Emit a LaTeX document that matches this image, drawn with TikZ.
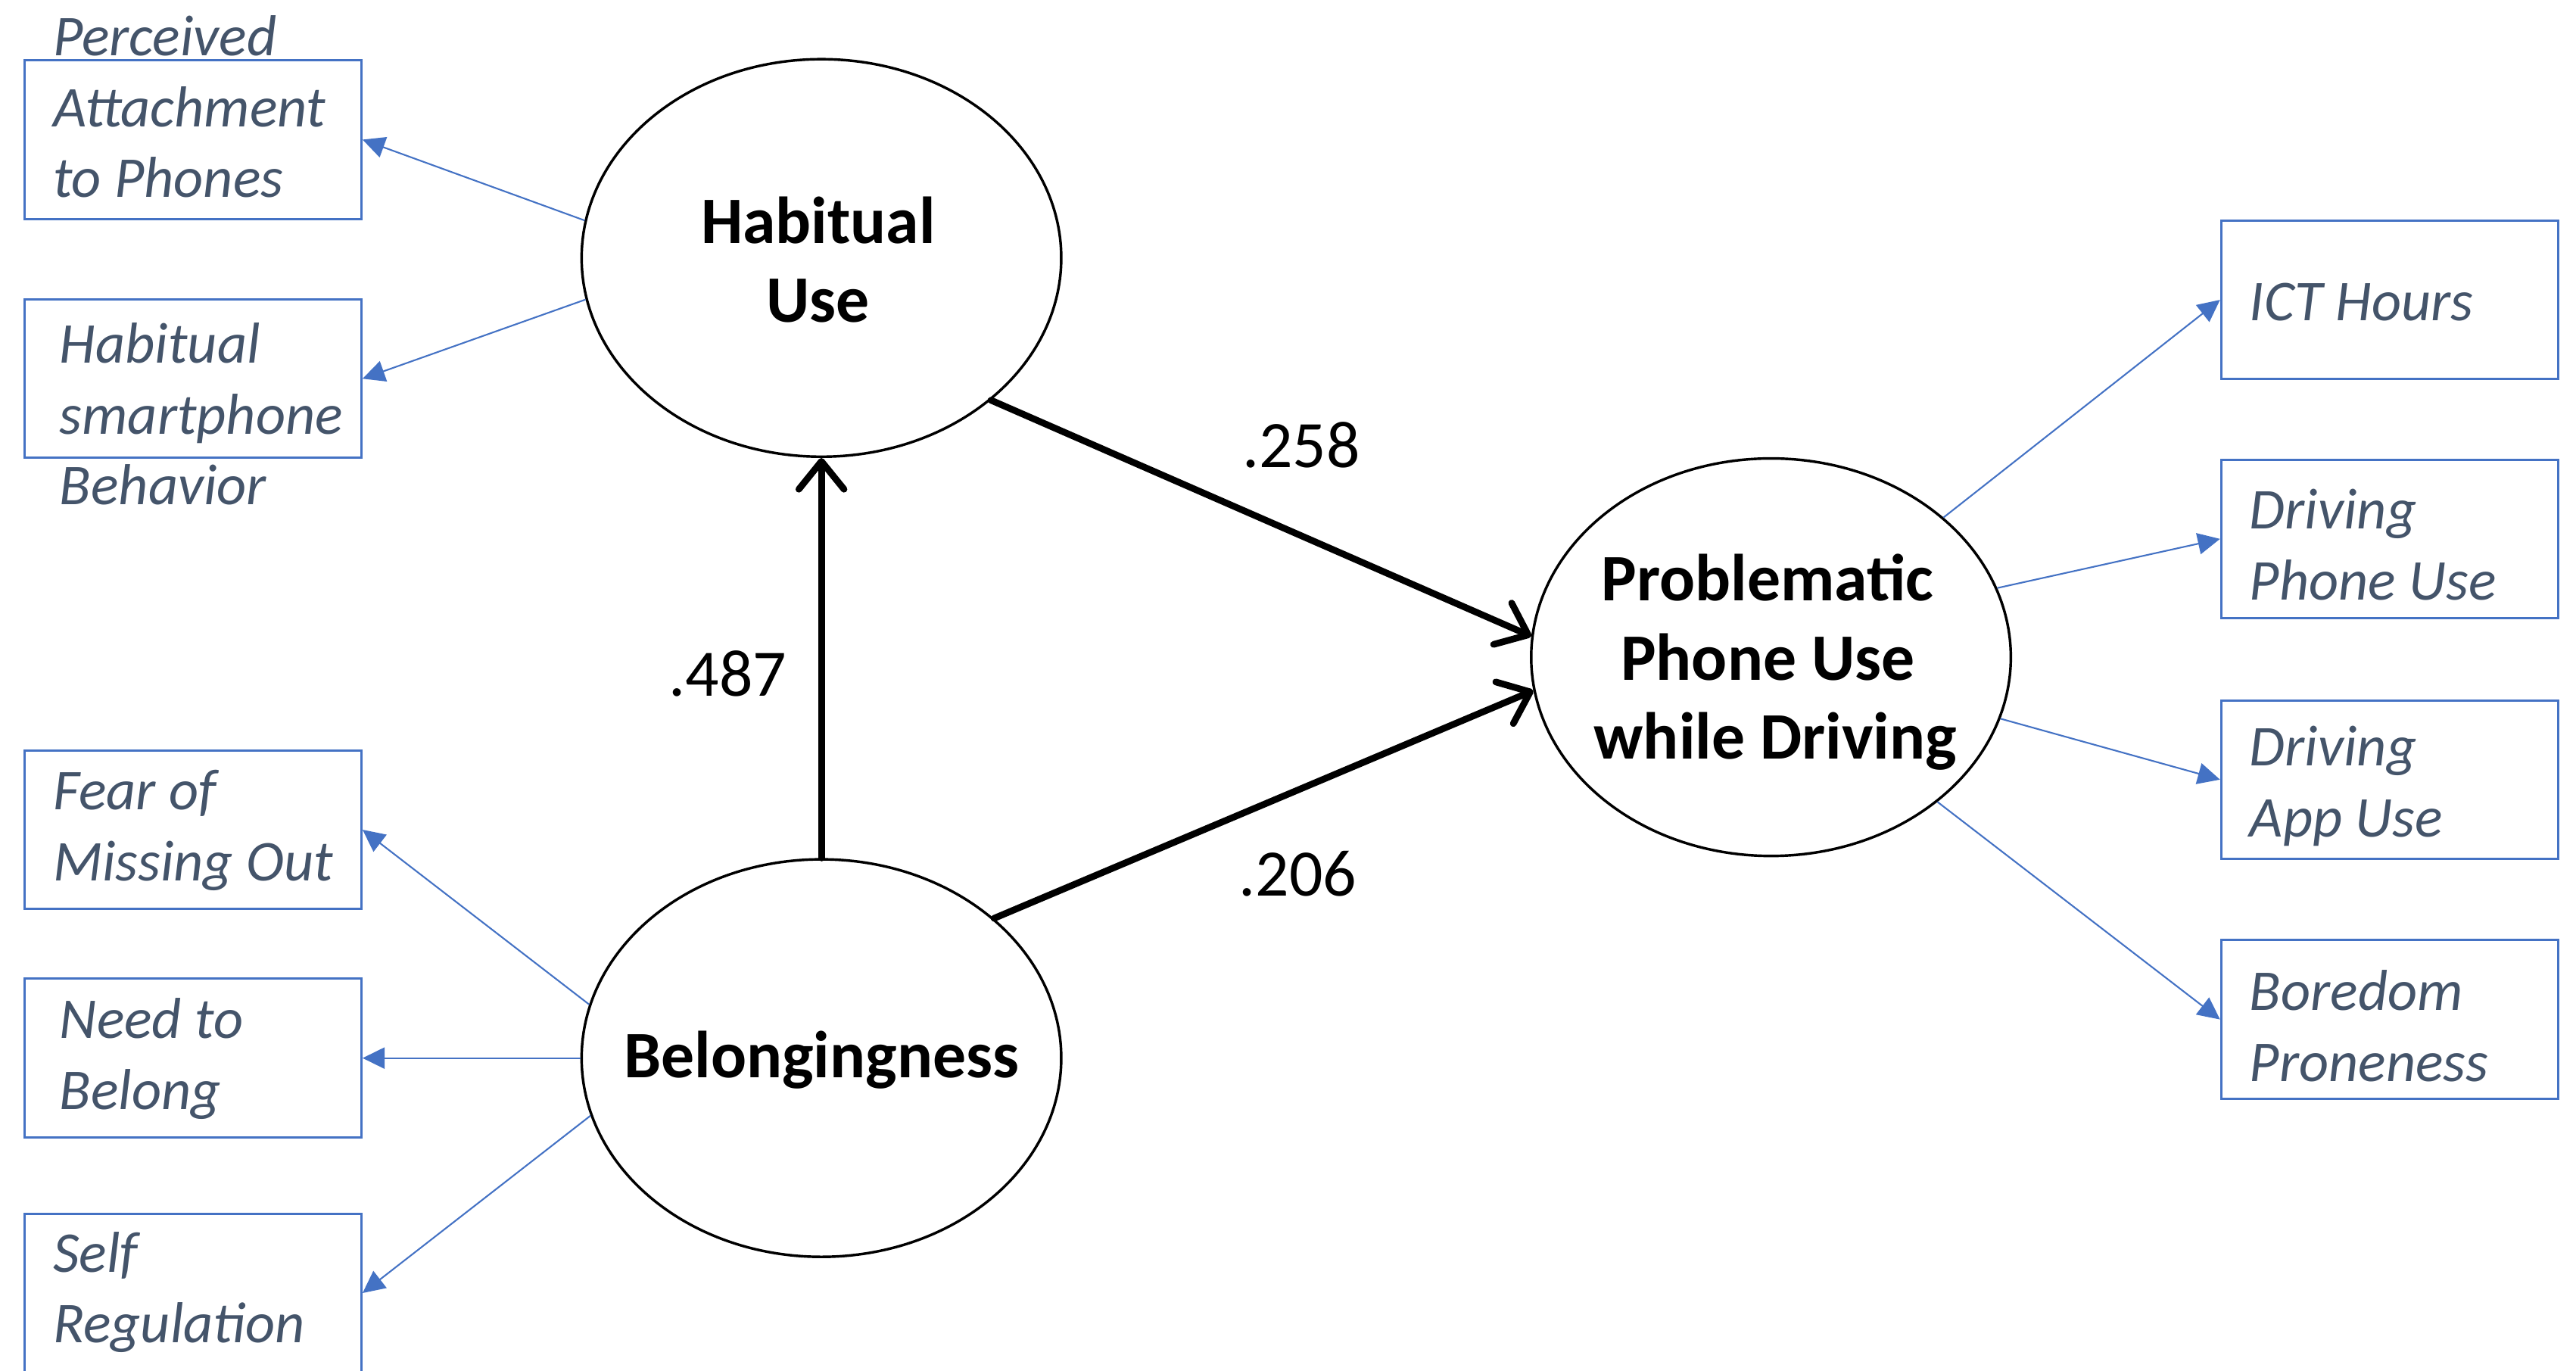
\documentclass[tikz,border=0pt]{standalone}
\usepackage{fontspec}
\setmainfont{Carlito}
\usepackage{xcolor}
\usetikzlibrary{arrows.meta, shapes.geometric}
\definecolor{ofblue}{HTML}{4472C4}
\definecolor{oftext}{HTML}{44546A}
\tikzset{
  latent/.style={ellipse, draw, line width=0.9pt, minimum width=5.84cm, minimum height=4.84cm, inner sep=0pt},
  latentlabel/.style={align=center, inner sep=0pt, font=\fontsize{23}{27.3}\selectfont\bfseries},
  indicator/.style={rectangle, draw=ofblue, line width=0.8pt, minimum width=4.1cm, minimum height=1.93cm, inner sep=0pt},
  indlabel/.style={anchor=west, align=left, inner sep=0pt, text=oftext, font=\fontsize{20}{24.5}\selectfont\itshape},
  loading/.style={draw=ofblue, line width=0.55pt, -{Triangle[length=0.27cm,width=0.26cm]}},
  regpath/.style={line width=2.3pt, line cap=round, -{Straight Barb[length=0.34cm,width=0.55cm,round]}},
  coef/.style={inner sep=0pt, font=\fontsize{23}{27}\selectfont}
}

\begin{document}
\begin{tikzpicture}[x=0.02cm, y=-0.02cm]
  \useasboundingbox (0,0) rectangle (1568,834);

  % latent constructs
  \node[latent] (hab) at (500,157) {};
  \node[latent] (bel) at (500,644) {};
  \node[latent] (ppd) at (1078,400) {};
  \node[latentlabel] (hab-t) at (498,158) {Habitual\\Use};
  \node[latentlabel] (bel-t) at (500,645) {Belongingness};
  \node[latentlabel] (ppd-t) at (1076,403) {Problematic\\Phone Use\\\ while Driving};

  % indicators, left
  \node[indicator] (pap) at (117.5,85) {};
  \node[indicator] (hsb) at (117.5,230.5) {};
  \node[indicator] (fomo) at (117.5,505) {};
  \node[indicator] (ntb) at (117.5,644) {};
  \node[indicator] (sr) at (117.5,787) {};
  \node[indlabel] (pap-t) at (32,65) {Perceived\\Attachment\\to Phones};
  \node[indlabel] (hsb-t) at (36,252) {Habitual\\smartphone\\Behavior};
  \node[indlabel] (fomo-t) at (32,505.5) {Fear of\\Missing Out};
  \node[indlabel] (ntb-t) at (36,644.5) {Need to\\Belong};
  \node[indlabel] (sr-t) at (32,786.5) {Self\\Regulation};

  % indicators, right
  \node[indicator] (ict) at (1454.5,182.5) {};
  \node[indicator] (dpu) at (1454.5,328) {};
  \node[indicator] (dau) at (1454.5,474.5) {};
  \node[indicator] (bp) at (1454.5,620.5) {};
  \node[indlabel] (ict-t) at (1369,184) {ICT Hours};
  \node[indlabel] (dpu-t) at (1369,331.5) {Driving\\Phone Use};
  \node[indlabel] (dau-t) at (1369,478.5) {Driving\\App Use};
  \node[indlabel] (bp-t) at (1369,624.5) {Boredom\\Proneness};

  % loadings
  \draw[loading] (hab.171) -- (pap.east);
  \draw[loading] (hab.190) -- (hsb.east);
  \draw[loading] (bel.167) -- (fomo.east);
  \draw[loading] (bel.180) -- (ntb.east);
  \draw[loading] (bel.194) -- (sr.east);
  \draw[loading] (ppd.39) -- (ict.west);
  \draw[loading] (ppd.17) -- (dpu.west);
  \draw[loading] (ppd.-15) -- (dau.west);
  \draw[loading] (ppd.-41) -- (bp.west);

  % structural paths
  \draw[regpath] (bel.north) -- (hab.south);
  \draw[regpath] (hab.-40) -- (ppd.175);
  \draw[regpath] (bel.39) -- (ppd.188);
  \node[coef] (c487) at (443,410) {.487};
  \node[coef] (c258) at (792,271) {.258};
  \node[coef] (c206) at (790,532) {.206};
\end{tikzpicture}
\end{document}
